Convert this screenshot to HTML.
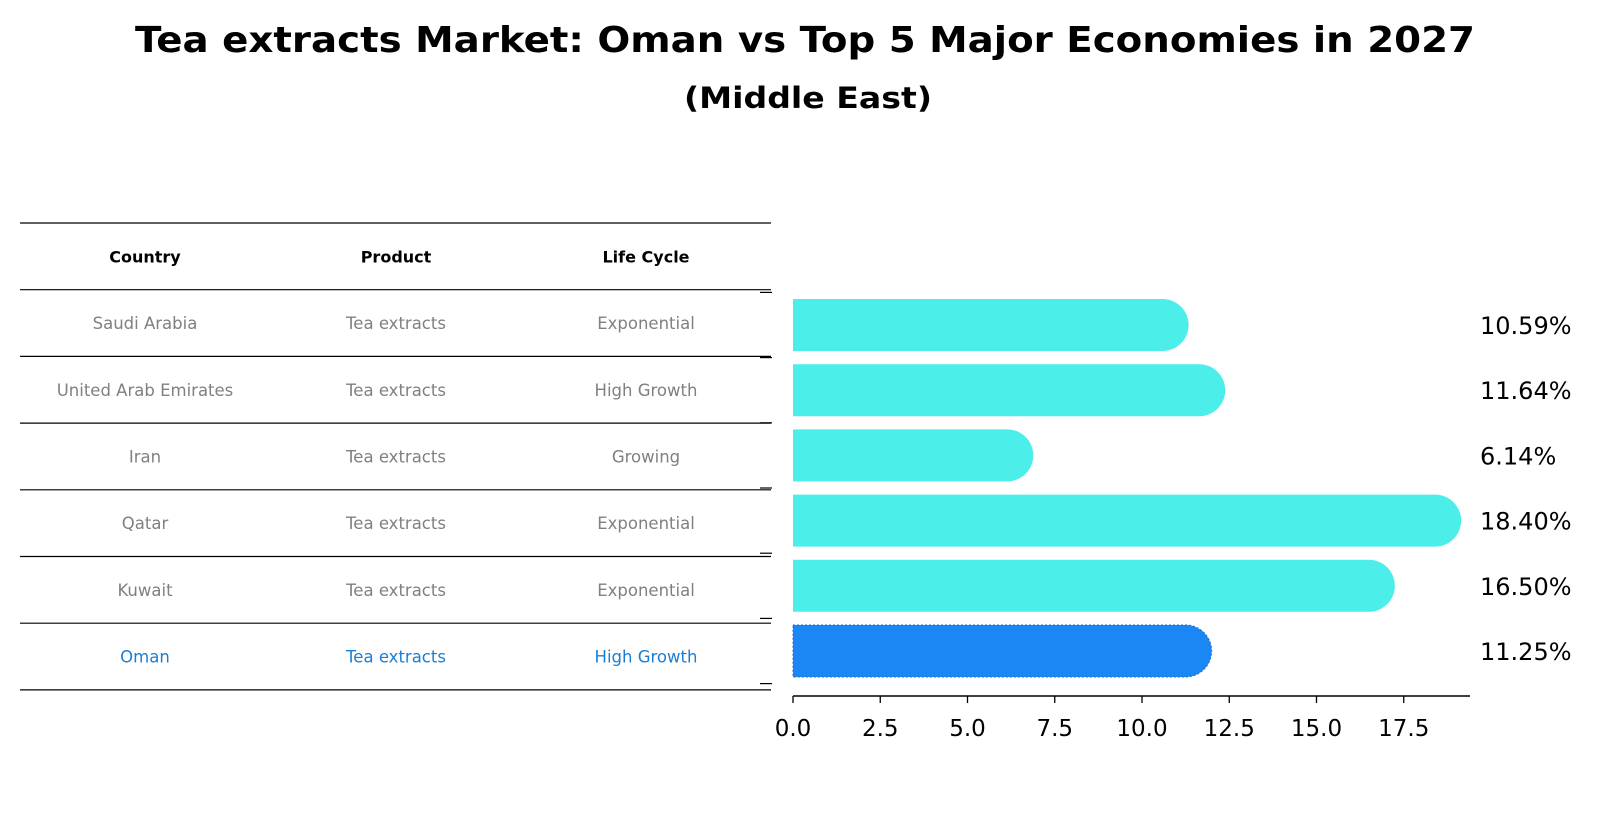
<!DOCTYPE html>
<html><head><meta charset="utf-8"><style>
body{margin:0;background:#fff;}
svg{display:block;font-family:"DejaVu Sans","Liberation Sans",sans-serif;}
</style></head><body>
<svg id="chart" width="1604" height="823" viewBox="0 0 1604 823" xmlns="http://www.w3.org/2000/svg">
<text x="805" y="52" text-anchor="middle" font-size="36" font-weight="bold" textLength="1340" lengthAdjust="spacingAndGlyphs">Tea extracts Market: Oman vs Top 5 Major Economies in 2027</text>
<text x="808" y="108" text-anchor="middle" font-size="29" font-weight="bold" textLength="248" lengthAdjust="spacingAndGlyphs">(Middle East)</text>
<g id="table"></g>
<g id="bars"></g>
</svg>
<script>
const countries = ["Saudi Arabia","United Arab Emirates","Iran","Qatar","Kuwait","Oman"];
const products = ["Tea extracts","Tea extracts","Tea extracts","Tea extracts","Tea extracts","Tea extracts"];
const lifeCycles = ["Exponential","High Growth","Growing","Exponential","Exponential","High Growth"];
const growth = [10.59,11.64,6.14,18.40,16.50,11.25];
const xTicks = [0,2.5,5,7.5,10,12.5,15,17.5];

const NS="http://www.w3.org/2000/svg";
function mk(tag,attrs,parent){const e=document.createElementNS(NS,tag);for(const k in attrs)e.setAttribute(k,attrs[k]);parent.appendChild(e);return e;}
const table=document.getElementById('table');
const bars=document.getElementById('bars');
const x0=793, pxPer=34.9;
const xScale=v=>x0+v*pxPer;
const rowTop=223, rowH=66.7;
const colX=[145,396,646];
const yBar=i=>325+i*65.2;
const barH=52;

// table lines
for(let i=0;i<=countries.length+1;i++){
  const l=mk('line',{x1:20,x2:771,y1:rowTop+i*rowH,y2:rowTop+i*rowH,stroke:'#000','stroke-width':1.2},table);
  
  
}
const headers=["Country","Product","Life Cycle"];
headers.forEach((h,j)=>{
  const t=mk('text',{x:colX[j],y:rowTop+rowH/2+6,'text-anchor':'middle','font-size':16,'font-weight':'bold'},table);
  t.textContent=h;
  
  
});
countries.forEach((c,i)=>{
  const vals=[c,products[i],lifeCycles[i]];
  const col=i===countries.length-1?'#1a7fd4':'#808080';
  vals.forEach((v,j)=>{
    const t=mk('text',{x:colX[j],y:rowTop+rowH*(i+1)+rowH/2+6,'text-anchor':'middle','font-size':16.5,fill:col},table);
    t.textContent=v;
    
    
  });
});

// bars
growth.forEach((v,i)=>{
  const cy=yBar(i), r=barH/2, xe=xScale(v);
  const oman=i===growth.length-1;
  const p=mk('path',{d:`M${x0},${cy-r} L${xe},${cy-r} A${r},${r} 0 0 1 ${xe},${cy+r} L${x0},${cy+r} Z`,
    fill:oman?'#1a87f5':'#4ceeea',stroke:oman?'#1a6fd0':'none','stroke-width':1,'stroke-dasharray':oman?'2,2':'none'},bars);
  
  
  const t=mk('text',{x:1480,y:cy+9,'font-size':24},bars);
  t.textContent=v.toFixed(2)+'%';
  
  
});
// y tick marks
for(let i=0;i<=growth.length;i++){
  const y=yBar(i)-32.6;
  const l=mk('line',{x1:760,x2:772,y1:y,y2:y,stroke:'#000','stroke-width':1.2},bars);
  
  
}
// x axis
const ax=mk('line',{x1:x0,x2:1470,y1:696,y2:696,stroke:'#000','stroke-width':1.5},bars);


xTicks.forEach(v=>{
  const x=xScale(v);
  const l=mk('line',{x1:x,x2:x,y1:696,y2:703,stroke:'#000','stroke-width':1.3},bars);
  
  
  const t=mk('text',{x:x,y:736,'text-anchor':'middle','font-size':23},bars);
  t.textContent=v.toFixed(1);
  
  
});
</script>
</body></html>
